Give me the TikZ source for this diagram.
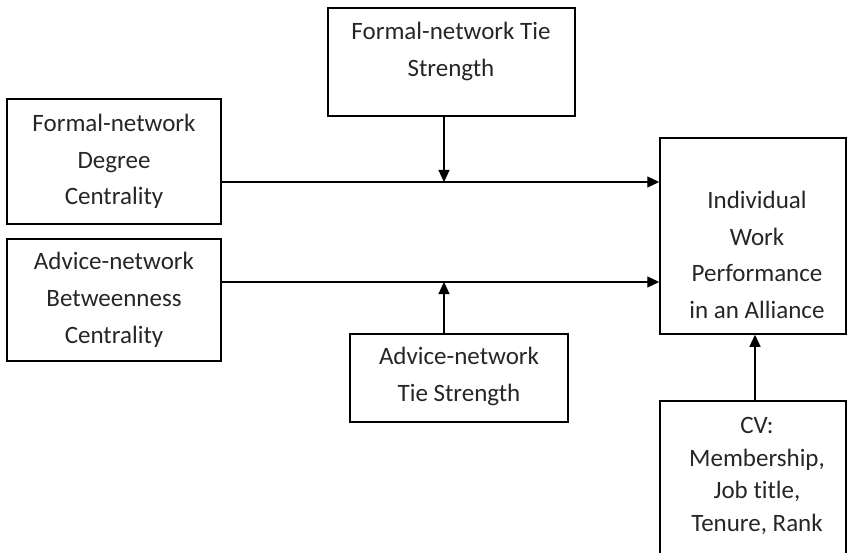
\documentclass[tikz,border=0pt]{standalone}
\usepackage{fontspec}
\setmainfont[RawFeature={-liga;-clig;-dlig;-calt}]{Carlito}
\usetikzlibrary{arrows.meta}
\begin{document}
\begin{tikzpicture}[x=1pt,y=-1pt,
  box/.style={draw=black,line width=1.5pt,rectangle,inner sep=0pt,fill=none},
  txt/.style={font=\fontsize{25}{36.7}\selectfont,align=center,text=black!85,inner sep=0pt},
  txtb/.style={font=\fontsize{25}{32.5}\selectfont,align=center,text=black!85,inner sep=0pt},
  arr/.style={line width=1.2pt,-{Triangle[length=12pt,width=11pt]}}]
\useasboundingbox (0,0) rectangle (848,553);
% boxes
\node[box,minimum width=247pt,minimum height=108pt] (ts) at (451.5,62) {};
\node[box,minimum width=214pt,minimum height=125pt] (dc) at (114,161.5) {};
\node[box,minimum width=214pt,minimum height=122pt] (bc) at (114,300) {};
\node[box,minimum width=218pt,minimum height=88pt] (ats) at (459,378) {};
\node[box,minimum width=186pt,minimum height=196pt] (perf) at (753,236) {};
\node[box,minimum width=186pt,minimum height=170pt] (cv) at (753,486) {};
% texts
\node[txt] (tst) at (451,51.5) {Formal-network Tie\\Strength};
\node[txt] (dct) at (114,161.5) {Formal-network\\Degree\\Centrality};
\node[txt] (bct) at (114,300) {Advice-network\\Betweenness\\Centrality};
\node[txt] (atst) at (459,376.5) {Advice-network\\Tie Strength};
\node[txt] (perft) at (757,255) {Individual\\Work\\Performance\\in an Alliance};
\node[txtb] (cvt) at (757,476) {CV:\\Membership,\\Job title,\\Tenure, Rank};
% junctions
\coordinate (m1) at (444,182);
\coordinate (m2) at (444,282);
\coordinate (m3) at (755,300);
% connectors
\draw[arr] (dc.east |- m1) -- (perf.west |- m1);
\draw[arr] (bc.east |- m2) -- (perf.west |- m2);
\draw[arr] (ts.south -| m1) -- (m1);
\draw[arr] (ats.north -| m2) -- (m2);
\draw[arr] (cv.north -| m3) -- (perf.south -| m3);
\end{tikzpicture}
\end{document}
